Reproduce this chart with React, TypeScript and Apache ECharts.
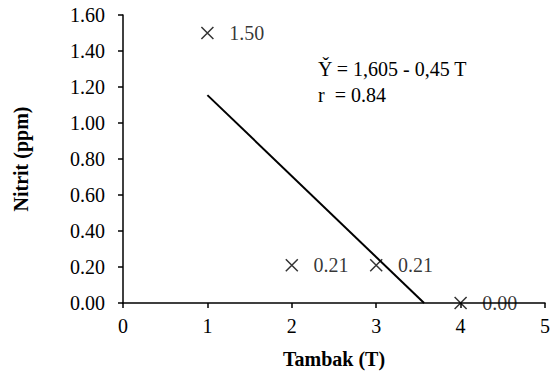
import React, { useEffect, useRef } from "react";
import * as echarts from "echarts";

const tambak = [1, 2, 3, 4];
const nitrit = [1.5, 0.21, 0.21, 0.0];
const trendX = [1, 3.567];
const trendY = [1.155, 0];
const equationLines = ["Y\u030C = 1,605 - 0,45 T", "r  = 0.84"];

export default function App() {
  const ref = useRef<HTMLDivElement>(null);
  useEffect(() => {
    if (!ref.current) return;
    const chart = echarts.init(ref.current, null, { renderer: "svg" });
    const font = "Liberation Serif";
    chart.setOption({
      animation: false,
      backgroundColor: "#fff",
      textStyle: { fontFamily: font },
      grid: { left: 123, right: 3, top: 15, bottom: 73, containLabel: false },
      xAxis: {
        type: "value",
        min: 0,
        max: 5,
        interval: 1,
        name: "Tambak (T)",
        nameLocation: "middle",
        nameGap: 46,
        nameTextStyle: { fontFamily: font, fontSize: 20, fontWeight: "bold", color: "#000" },
        axisLine: { show: true, onZero: false, lineStyle: { color: "#000", width: 1.5 } },
        axisTick: { show: true, inside: false, length: 5, lineStyle: { color: "#000", width: 1.5 } },
        axisLabel: { fontFamily: font, fontSize: 20, color: "#000", margin: 13 },
        splitLine: { show: false },
      },
      yAxis: {
        type: "value",
        min: 0,
        max: 1.6,
        interval: 0.2,
        name: "Nitrit (ppm)",
        nameLocation: "middle",
        nameGap: 92,
        nameTextStyle: { fontFamily: font, fontSize: 20, fontWeight: "bold", color: "#000" },
        axisLine: { show: true, lineStyle: { color: "#000", width: 1.5 } },
        axisTick: { show: true, inside: false, length: 5, lineStyle: { color: "#000", width: 1.5 } },
        axisLabel: {
          fontFamily: font,
          fontSize: 20,
          color: "#000",
          margin: 18,
          formatter: (v: number) => v.toFixed(2),
        },
        splitLine: { show: false },
      },
      graphic: [
        {
          type: "text",
          left: 318,
          top: 59,
          style: { text: equationLines[0], fontFamily: font, fontSize: 20, fill: "#000" },
        },
        {
          type: "text",
          left: 318,
          top: 85,
          style: { text: equationLines[1], fontFamily: font, fontSize: 20, fill: "#000" },
        },
      ],
      series: [
        {
          type: "line",
          data: trendX.map((x, i) => [x, trendY[i]]),
          symbol: "none",
          lineStyle: { color: "#000", width: 2 },
          clip: false,
          z: 2,
        },
        {
          type: "scatter",
          data: tambak.map((x, i) => [x, nitrit[i]]),
          symbol: "path://M0,0L10,10M10,0L0,10",
          symbolSize: 12,
          itemStyle: { color: "transparent", borderColor: "#000", borderWidth: 1.5 },
          clip: false,
          z: 3,
          label: {
            show: true,
            position: "right",
            distance: 15,
            fontFamily: font,
            fontSize: 20,
            color: "#000",
            formatter: (p: any) => (p.value[1] as number).toFixed(2),
          },
        },
      ],
    });
    return () => chart.dispose();
  }, []);
  return (
    <div
      ref={ref}
      style={{ position: "fixed", left: 0, top: 0, width: 553, height: 376 }}
    />
  );
}
